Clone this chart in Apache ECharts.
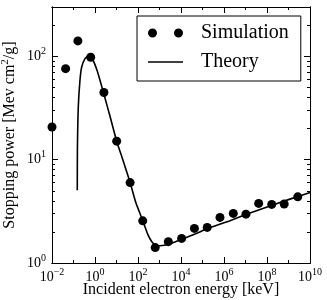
<!DOCTYPE html>
<html><head><meta charset="utf-8">
<script src="https://cdn.jsdelivr.net/npm/echarts@6/dist/echarts.min.js"></script>
<style>html,body{margin:0;padding:0;background:#fff}#c{width:327px;height:300px}</style>
</head><body><div id="c"></div>
<script>
const simEnergy = [0.01, 0.043, 0.16, 0.63, 2.6, 10.2, 43, 166, 630, 2570, 10700, 42000, 166000, 650000, 2.7e6, 1.05e7, 4.1e7, 1.66e8, 6.3e8, 2.7e9];
const simPower  = [20.7, 76, 141, 98, 44.6, 15.1, 6.0, 2.56, 1.41, 1.61, 1.73, 2.16, 2.21, 2.76, 3.02, 2.97, 3.77, 3.69, 3.72, 4.37];
const theoryEnergy = [0.150, 0.152, 0.167, 0.200, 0.240, 0.343, 0.488, 0.724, 1.24, 2.43, 4.99, 10.2, 20.0, 42.5, 80.7, 166, 292, 448, 687, 1054, 3076, 8977, 44770, 223000, 1.9e6, 1.62e7, 1.38e8, 1.17e9, 1e10];
const theoryPower  = [5.07, 12.4, 32.4, 58.6, 78.8, 95.0, 100.7, 95.7, 73.2, 45.2, 26.3, 15.1, 9.89, 6.06, 3.80, 2.57, 1.87, 1.60, 1.48, 1.47, 1.53, 1.67, 1.91, 2.20, 2.57, 3.04, 3.56, 4.15, 4.80];
const xMajorTicks = [1e-2, 1e0, 1e2, 1e4, 1e6, 1e8, 1e10];
const xMinorTicks = [1e-1, 1e1, 1e3, 1e5, 1e7, 1e9];
const yMajorTicks = [1, 10, 100];
const yMinorTicks = [2, 3, 4, 5, 6, 7, 8, 9, 20, 30, 40, 50, 60, 70, 80, 90, 200, 300];
const xName = 'Incident electron energy [keV]';
const yName = 'Stopping power [Mev cm{sup|2}/g]';
const seriesNames = ['Simulation', 'Theory'];

const FONT = 'Liberation Serif';
const BLACK = '#000';
const chart = echarts.init(document.getElementById('c'), null, {renderer: 'canvas'});

function powLabel(v) {
  const e = Math.round(Math.log10(v));
  const s = e < 0 ? '\u2212' + (-e) : String(e);
  return '{b|10}{s|' + s + '}';
}
const powRich = {
  b: {fontFamily: FONT, fontSize: 14, color: BLACK},
  s: {fontFamily: FONT, fontSize: 10, color: BLACK, padding: [0, 0, 10, 0]}
};

function xAx(pos, ticks, len, withLabels) {
  const a = {
    type: 'log', logBase: 10, min: 1e-2, max: 1e10, position: pos,
    axisLine: {show: true, onZero: false, lineStyle: {color: BLACK, width: 1}},
    axisTick: {show: true, inside: true, length: len, customValues: ticks, lineStyle: {color: BLACK, width: 1}},
    axisLabel: {show: false},
    splitLine: {show: false}, minorTick: {show: false}
  };
  if (withLabels) {
    a.axisLabel = {show: true, customValues: ticks, margin: 4, formatter: powLabel, rich: powRich, color: BLACK};
    a.name = xName;
    a.nameLocation = 'middle';
    a.nameGap = 19;
    a.nameMoveOverlap = false;
    a.nameTextStyle = {fontFamily: FONT, fontSize: 16, color: BLACK};
  }
  return a;
}
function yAx(pos, ticks, len, withLabels) {
  const a = {
    type: 'log', logBase: 10, min: 1, max: 300, position: pos,
    axisLine: {show: true, onZero: false, lineStyle: {color: BLACK, width: 1}},
    axisTick: {show: true, inside: true, length: len, customValues: ticks, lineStyle: {color: BLACK, width: 1}},
    axisLabel: {show: false},
    splitLine: {show: false}, minorTick: {show: false}
  };
  if (withLabels) {
    a.axisLabel = {show: true, customValues: ticks, margin: 6, formatter: powLabel, rich: powRich, color: BLACK};
    a.name = yName;
    a.nameLocation = 'middle';
    a.nameGap = 32;
    a.nameMoveOverlap = false;
    a.nameTextStyle = {fontFamily: FONT, fontSize: 16, color: BLACK,
      rich: {sup: {fontFamily: FONT, fontSize: 11, color: BLACK, padding: [0, 0, 9, 0]}}};
  }
  return a;
}

const option = {
  animation: false,
  backgroundColor: '#fff',
  grid: {left: 52, right: 17, top: 7, bottom: 37, containLabel: false, outerBoundsMode: 'none'},
  xAxis: [
    xAx('bottom', xMajorTicks, 6, true),
    xAx('bottom', xMinorTicks, 3, false),
    xAx('top', xMajorTicks, 6, false),
    xAx('top', xMinorTicks, 3, false)
  ],
  yAxis: [
    yAx('left', yMajorTicks, 6, true),
    yAx('left', yMinorTicks, 3, false),
    yAx('right', yMajorTicks, 6, false),
    yAx('right', yMinorTicks, 3, false)
  ],
  legend: {
    left: 137, top: 16, orient: 'vertical', align: 'left',
    padding: [7, 12, 9, 11], itemGap: 9, itemWidth: 35, itemHeight: 9,
    borderColor: BLACK, borderWidth: 1, backgroundColor: '#fff', borderRadius: 0,
    textStyle: {fontFamily: FONT, fontSize: 20, color: BLACK, padding: [0, 0, 0, 13]},
    data: [
      {name: seriesNames[0], icon: 'path://M0,4.5a4.5,4.5 0 1,0 9,0a4.5,4.5 0 1,0 -9,0zM26,4.5a4.5,4.5 0 1,0 9,0a4.5,4.5 0 1,0 -9,0z', itemStyle: {color: BLACK, opacity: 1}},
      {name: seriesNames[1], icon: 'path://M0,0H35V1.6H0Z'}
    ]
  },
  series: [
    {
      name: seriesNames[0], type: 'scatter', xAxisIndex: 0, yAxisIndex: 0,
      symbol: 'circle', symbolSize: 9, clip: false,
      itemStyle: {color: BLACK, opacity: 1},
      data: simEnergy.map((e, i) => [e, simPower[i]]),
      z: 3
    },
    {
      name: seriesNames[1], type: 'line', xAxisIndex: 0, yAxisIndex: 0,
      showSymbol: false, symbol: 'none', smooth: 0.2,
      lineStyle: {color: BLACK, width: 1.6}, itemStyle: {color: BLACK},
      data: theoryEnergy.map((e, i) => [e, theoryPower[i]]),
      z: 2
    }
  ]
};
chart.setOption(option);
</script>
</body></html>
